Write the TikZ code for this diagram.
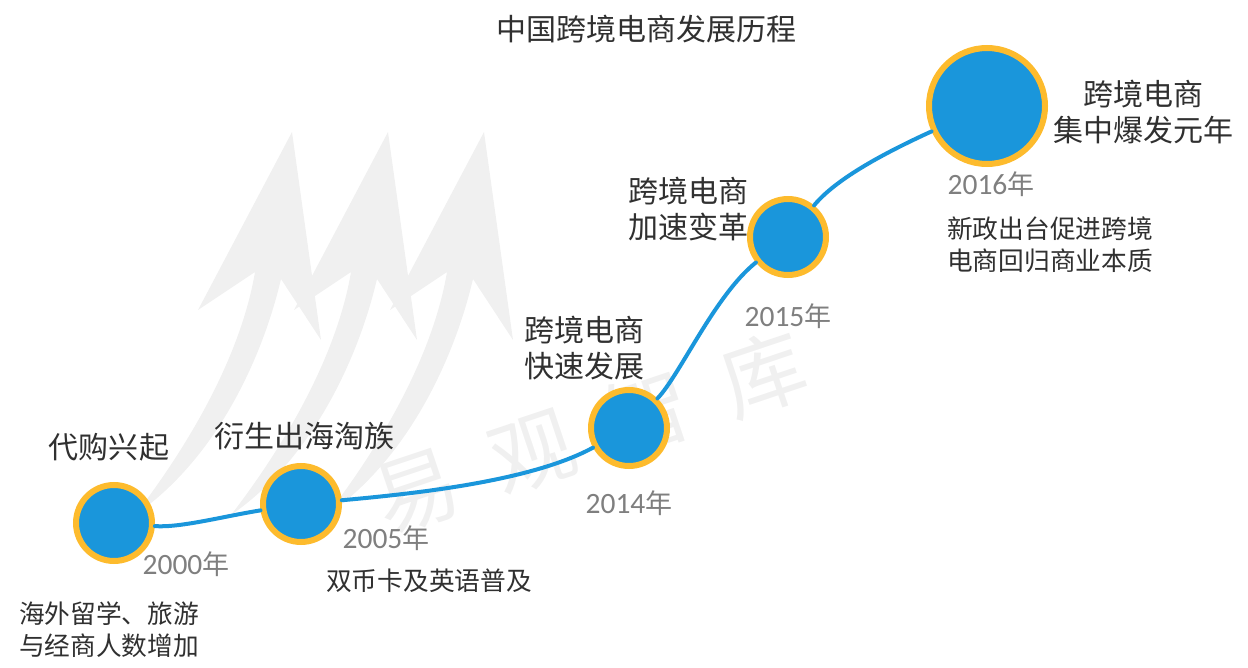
\documentclass[tikz,border=0pt]{standalone}
\usepackage{fontspec}
\setmainfont{Noto Sans CJK SC}[BoldFont={Noto Sans CJK SC}]
\newfontfamily\yearfont{Carlito}
\definecolor{dotblue}{HTML}{1A96DB}
\definecolor{dotring}{HTML}{FDBB2D}
\definecolor{wm}{HTML}{F0F0F0}
\definecolor{yeargray}{HTML}{7F7F7F}
\definecolor{ink}{HTML}{303030}
\tikzset{
  x=1bp,y=-1bp,
  dot/.style={circle,draw=dotring,fill=dotblue,line width=6bp,inner sep=0pt},
  small dot/.style={dot,minimum size=76bp},
  big dot/.style={dot,minimum size=116bp},
  link/.style={draw=dotblue,line width=4bp,line cap=round},
  head/.style={font=\fontsize{30bp}{36bp}\selectfont,text=ink,align=center,inner sep=0pt},
  note/.style={font=\fontsize{25.7bp}{32bp}\selectfont,text=ink,align=left,inner sep=0pt},
  year/.style={text=yeargray,inner sep=0pt,font=\fontsize{27bp}{28bp}\selectfont},
  mark shape/.style={fill=wm,draw=none},
}
\newcommand{\yr}[1]{{\yearfont\fontsize{29.5bp}{28bp}\selectfont #1}年}
\begin{document}
\begin{tikzpicture}
\useasboundingbox (0,0) rectangle (1248,668);
% watermark arrows
\foreach \dx in {192,96,0}{
  \fill[mark shape,shift={(\dx,0)}] (292,132) -- (321,340) -- (281,279)
    .. controls (262,360) and (215,460) .. (135,515)
    .. controls (185,450) and (240,360) .. (255,272)
    -- (198,310) -- cycle;
}
\node[rotate=18.5,font=\fontsize{84bp}{84bp}\selectfont,text=wm,inner sep=0pt] (wmtext) at (590,432) {易\hspace{38bp}观\hspace{38bp}智\hspace{38bp}库};
% nodes
\node[small dot] (a) at (114,523) {};
\node[small dot] (b) at (301,504) {};
\node[small dot] (c) at (629,428) {};
\node[small dot] (d) at (788,237) {};
\node[big dot] (e) at (987,106) {};
% connectors
\draw[link] (a) .. controls (180,528) and (225,516) .. (b);
\draw[link] (b) .. controls (410,494) and (530,482) .. (c);
\draw[link] (c) .. controls (680,375) and (715,295) .. (d);
\draw[link] (d) .. controls (835,180) and (880,155) .. (e);
% texts
\node[font=\fontsize{30bp}{36bp}\selectfont,text=ink,inner sep=0pt] (title) at (646,29) {中国跨境电商发展历程};
\node[head] (ha) at (109,447) {代购兴起};
\node[head] (hb) at (304,436) {衍生出海淘族};
\node[head] (hc) at (584,348) {跨境电商\\快速发展};
\node[head] (hd) at (688,209) {跨境电商\\加速变革};
\node[head] (he) at (1143,112) {跨境电商\\集中爆发元年};
\node[year] (ya) at (186,564) {\yr{2000}};
\node[year] (yb) at (386,538) {\yr{2005}};
\node[year] (yc) at (629,503) {\yr{2014}};
\node[year] (yd) at (788,316) {\yr{2015}};
\node[year] (ye) at (991,184) {\yr{2016}};
\node[note,anchor=west] (na) at (19,630) {海外留学、旅游\\与经商人数增加};
\node[note,anchor=west] (nb) at (326,581) {双币卡及英语普及};
\node[note,anchor=west] (ne) at (947,245) {新政出台促进跨境\\电商回归商业本质};
\end{tikzpicture}
\end{document}
